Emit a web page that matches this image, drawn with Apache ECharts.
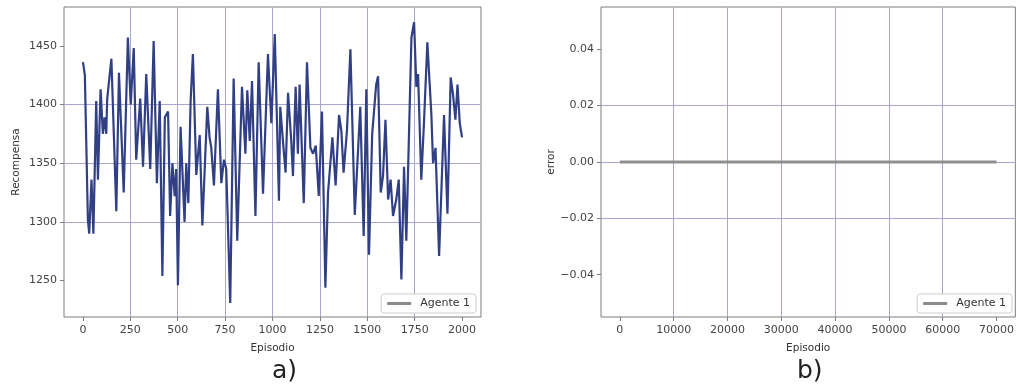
<!DOCTYPE html>
<html><head><meta charset="utf-8">
<script src="https://cdn.jsdelivr.net/npm/echarts@6/dist/echarts.min.js"></script>
<style>html,body{margin:0;padding:0;background:#fff}#c{width:1017px;height:390px}</style>
</head><body><div id="c"></div>
<script>
const episodesA = [0,10,26,33,45,55,70,79,93,105,114,123,128,150,176,190,215,237,252,268,281,302,317,334,355,373,390,405,419,432,449,460,472,484,492,501,515,536,545,556,568,580,598,616,630,656,668,677,691,712,730,744,756,777,795,814,839,857,867,880,892,910,927,950,976,994,1012,1034,1041,1055,1069,1082,1099,1108,1122,1134,1143,1165,1182,1200,1214,1228,1244,1261,1279,1293,1316,1333,1351,1363,1375,1393,1411,1434,1463,1481,1495,1509,1526,1547,1557,1571,1583,1596,1610,1623,1636,1653,1666,1680,1694,1706,1724,1733,1747,1759,1768,1785,1799,1817,1830,1838,1847,1860,1879,1905,1923,1940,1952,1965,1976,1988,2000];
const rewardsA = [1436,1425,1302,1290,1336,1290,1403,1336,1413,1375,1389,1375,1405,1439,1309,1427,1325,1457,1400,1448,1353,1405,1347,1426,1345,1454,1333,1403,1254,1389,1394,1305,1350,1322,1345,1246,1381,1300,1350,1316,1403,1443,1340,1374,1297,1398,1372,1363,1331,1413,1333,1353,1345,1231,1422,1284,1415,1358,1412,1369,1420,1305,1436,1324,1443,1384,1460,1318,1398,1369,1342,1410,1369,1339,1415,1358,1417,1316,1436,1363,1358,1365,1322,1394,1244,1325,1372,1331,1391,1378,1342,1378,1447,1306,1398,1288,1413,1272,1375,1417,1424,1325,1339,1387,1319,1336,1305,1319,1336,1251,1347,1284,1400,1457,1470,1415,1426,1336,1384,1453,1415,1392,1350,1363,1271,1391,1307,1423,1409,1387,1417,1384,1372];
const episodesB = [0,10000,20000,30000,40000,50000,60000,70000];
const errorsB = [0,0,0,0,0,0,0,0];
const xTicksA = [0,250,500,750,1000,1250,1500,1750,2000];
const yTicksA = [1250,1300,1350,1400,1450];
const xTicksB = [0,10000,20000,30000,40000,50000,60000,70000];
const yTicksB = [-0.04,-0.02,0,0.02,0.04];
const seriesName = 'Agente 1';
const panelLabels = ['a)','b)'];
const axisNames = {xA:'Episodio', yA:'Recompensa', xB:'Episodio', yB:'error'};

const FONT = 'DejaVu Sans';
const gridColor = '#a6a6d0';
const borderColor = '#7d7d7d';
const labelColor = '#444';

function fmtB(v){ return (v < 0 ? '\u2212' : '') + Math.abs(v).toFixed(2); }

function xAxis(gridIndex, min, max, step, ticks, name, fmt){
  return {
    type:'value', gridIndex, min, max, minInterval:step, maxInterval:step,
    name, nameLocation:'middle', nameGap:26,
    nameTextStyle:{fontFamily:FONT, fontSize:10.5, color:'#333'},
    axisLine:{show:false, onZero:false},
    axisTick:{show:true, length:4, lineStyle:{color:borderColor}, customValues:ticks},
    axisLabel:{fontFamily:FONT, fontSize:11, color:labelColor, margin:8, customValues:ticks, formatter:fmt},
    splitLine:{show:true, showMinLine:false, showMaxLine:false, lineStyle:{color:gridColor, width:1}}
  };
}
function yAxis(gridIndex, min, max, step, ticks, name, fmt, gap){
  return {
    type:'value', gridIndex, min, max, minInterval:step, maxInterval:step,
    name, nameLocation:'middle', nameGap:gap, nameRotate:90,
    nameTextStyle:{fontFamily:FONT, fontSize:10.5, color:'#333'},
    axisLine:{show:false, onZero:false},
    axisTick:{show:true, length:4, lineStyle:{color:borderColor}, customValues:ticks},
    axisLabel:{fontFamily:FONT, fontSize:11, color:labelColor, margin:7, customValues:ticks, formatter:fmt},
    splitLine:{show:true, showMinLine:false, showMaxLine:false, lineStyle:{color:gridColor, width:1}}
  };
}

const chart = echarts.init(document.getElementById('c'), null, {renderer:'canvas'});
const legendCommon = {
  orient:'horizontal', icon:'rect', itemWidth:24, itemHeight:3,
  backgroundColor:'#fff', borderColor:'#cfcfcf', borderWidth:1, borderRadius:3,
  padding:[4,6], textStyle:{fontFamily:FONT, fontSize:11, color:'#333', padding:[0,0,0,4]},
  selectedMode:false,
  data:[{name:seriesName, itemStyle:{color:'#8c8c8c'}}]
};
chart.setOption({
  animation:false,
  backgroundColor:'#fff',
  grid:[
    {left:64, top:7, width:417, height:310, show:true, borderColor:borderColor, borderWidth:1, backgroundColor:'transparent'},
    {left:601, top:7, width:417, height:310, show:true, borderColor:borderColor, borderWidth:1, backgroundColor:'transparent'}
  ],
  xAxis:[
    xAxis(0, -100, 2100, 250, xTicksA, axisNames.xA, v => String(v)),
    xAxis(1, -3500, 73500, 10000, xTicksB, axisNames.xB, v => String(v))
  ],
  yAxis:[
    yAxis(0, 1219, 1483, 50, yTicksA, axisNames.yA, v => String(v), 42),
    yAxis(1, -0.055, 0.055, 0.02, yTicksB, axisNames.yB, fmtB, 44)
  ],
  legend:[
    Object.assign({}, legendCommon, {right:541, bottom:77}),
    Object.assign({}, legendCommon, {right:5, bottom:77})
  ],
  series:[
    {type:'line', name:seriesName, xAxisIndex:0, yAxisIndex:0, showSymbol:false, symbol:'none',
     lineStyle:{color:'#313f85', width:2.2}, itemStyle:{color:'#313f85'},
     data:episodesA.map((e,i)=>[e, rewardsA[i]])},
    {type:'line', name:seriesName, xAxisIndex:1, yAxisIndex:1, showSymbol:false, symbol:'none',
     lineStyle:{color:'#8f8f8f', width:3}, itemStyle:{color:'#8f8f8f'},
     data:episodesB.map((e,i)=>[e, errorsB[i]])}
  ],
  graphic:[
    {type:'text', left:272, top:359, style:{text:panelLabels[0], font:'25px "DejaVu Sans"', fill:'#222'}},
    {type:'text', left:797, top:359, style:{text:panelLabels[1], font:'25px "DejaVu Sans"', fill:'#222'}}
  ]
});
</script></body></html>
